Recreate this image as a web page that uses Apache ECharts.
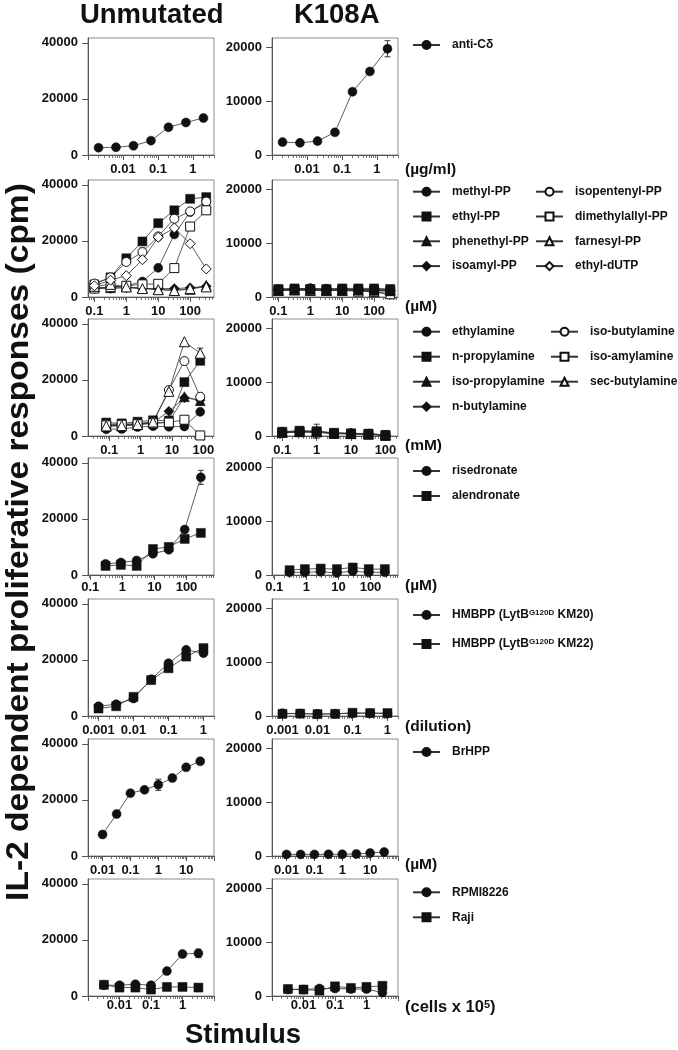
<!DOCTYPE html>
<html><head><meta charset="utf-8">
<script src="https://cdn.jsdelivr.net/npm/echarts@6/dist/echarts.min.js"></script>
<style>html,body{margin:0;padding:0;background:#fff}#c{width:678px;height:1050px}</style>
</head><body><div id="c"></div><script>
const FONT = '"Liberation Sans", Arial, Helvetica, sans-serif';

// ---------- Row 1: anti-Cdelta (ug/ml)
const r1X = [0.002, 0.0063, 0.02, 0.063, 0.2, 0.63, 2];
const r1XRange = [0.001, 4];
const r1XLabels = [0.01, 0.1, 1];
const antiCdU = [2600, 2750, 3300, 5100, 9900, 11600, 13200];
const antiCdK = [2400, 2270, 2590, 4220, 11790, 15570, 19800];
const antiCdKErr = [0, 0, 0, 0, 0, 0, 1500];

// ---------- Row 2: phosphoantigens (uM)
const r2X = [0.1, 0.32, 1, 3.2, 10, 32, 100, 320];
const r2XRange = [0.063, 560];
const r2XLabels = [0.1, 1, 10, 100];
const methylPPU = [3000, 3500, 4000, 5500, 10400, 22300, 30300, 33800];
const ethylPPU = [4500, 7000, 13800, 19800, 26300, 30900, 35000, 35600];
const phenethylPPU = [3500, 3300, 3600, 3200, 2800, 2400, 2700, 4200];
const isoamylPPU = [3000, 3000, 3300, 3000, 3000, 3000, 3300, 3800];
const isopentenylPPU = [4800, 7000, 12500, 16000, 21600, 27900, 30500, 34000];
const dimethylallylPPU = [3000, 3500, 4000, 4500, 4700, 10300, 25100, 30900];
const farnesylPPU = [3800, 4500, 3600, 3000, 2600, 2300, 3000, 3600];
const ethyldUTPU = [4000, 6000, 7600, 13300, 21300, 24600, 19000, 10000];
const methylPPUErr = [0, 0, 0, 0, 0, 0, 0, 1800];
const isopentenylPPUErr = [0, 0, 0, 1500, 1000, 1200, 0, 0];
const methylPPK = [1400, 1500, 1600, 1400, 1500, 1400, 1500, 1300];
const ethylPPK = [1500, 1600, 1500, 1500, 1600, 1600, 1600, 1500];
const phenethylPPK = [1300, 1400, 1400, 1300, 1400, 1300, 1300, 1200];
const isoamylPPK = [1200, 1300, 1300, 1200, 1300, 1200, 1200, 1100];
const isopentenylPPK = [1400, 1500, 1600, 1500, 1500, 1400, 1400, 1300];
const dimethylallylPPK = [1300, 1400, 1400, 1300, 1300, 1300, 1200, 1100];
const farnesylPPK = [1200, 1300, 1200, 1200, 1200, 1100, 1000, 600];
const ethyldUTPK = [1300, 1300, 1300, 1200, 1300, 1200, 900, 500];

// ---------- Row 3: alkylamines (mM)
const r3X = [0.08, 0.25, 0.8, 2.5, 8, 25, 80];
const r3XRange = [0.021, 220];
const r3XK = [0.1, 0.32, 1, 3.2, 10, 32, 100];
const r3XRangeK = [0.0505, 231];
const r3XLabels = [0.1, 1, 10, 100];
const ethylamineU = [2400, 2500, 3200, 3500, 3300, 3400, 8600];
const nPropylamineU = [4800, 4500, 5100, 5600, 5500, 19200, 26800];
const isoPropylamineU = [3500, 3600, 4000, 4600, 5000, 14000, 12600];
const nButylamineU = [3800, 3900, 4200, 4800, 8800, 13600, 12800];
const isoButylamineU = [4200, 4200, 4400, 5000, 16400, 26700, 14000];
const isoAmylamineU = [3800, 4000, 4200, 4500, 4800, 5800, 200];
const secButylamineU = [3600, 3700, 4100, 5000, 15900, 33600, 29500];
const secButylamineUErr = [0, 0, 0, 0, 0, 0, 1800];
const isoButylamineUErr = [0, 0, 0, 0, 1000, 1200, 1200];
const ethylamineK = [700, 800, 800, 500, 500, 400, 200];
const nPropylamineK = [800, 1000, 900, 600, 500, 450, 200];
const nPropylamineKErr = [0, 0, 1300, 0, 0, 0, 0];
const isoPropylamineK = [750, 900, 850, 550, 450, 400, 150];
const nButylamineK = [700, 850, 800, 500, 450, 350, 150];
const isoButylamineK = [650, 800, 750, 450, 400, 350, 100];
const isoAmylamineK = [600, 750, 700, 450, 400, 300, 100];
const secButylamineK = [700, 800, 800, 500, 450, 350, 150];

// ---------- Row 4: bisphosphonates (uM)
const r4X = [0.3, 0.9, 2.8, 9, 28, 88, 280];
const r4XRange = [0.085, 720];
const r4XLabels = [0.1, 1, 10, 100];
const risedronateU = [3960, 4440, 5160, 7570, 9000, 16200, 34800];
const risedronateUErr = [0, 0, 0, 0, 0, 0, 2500];
const alendronateU = [3240, 3600, 3240, 9250, 10000, 12860, 15000];
const risedronateK = [500, 500, 600, 400, 700, 500, 500];
const alendronateK = [900, 1100, 1200, 1100, 1400, 1100, 1100];

// ---------- Row 5: HMBPP (dilution)
const r5X = [0.001, 0.0032, 0.01, 0.032, 0.1, 0.32, 1];
const r5XRange = [0.0005, 2];
const r5XLabels = [0.001, 0.01, 0.1, 1];
const km20U = [3480, 4200, 6240, 13070, 18800, 23580, 22400];
const km22U = [2650, 3480, 6820, 12800, 17000, 21180, 24200];
const km20K = [500, 450, 400, 400, 500, 500, 450];
const km22K = [400, 450, 350, 400, 600, 550, 550];

// ---------- Row 6: BrHPP (uM)
const r6X = [0.01, 0.032, 0.1, 0.32, 1, 3.2, 10, 32];
const r6XRange = [0.003, 100];
const r6XLabels = [0.01, 0.1, 1, 10];
const brhppU = [7680, 14970, 22400, 23590, 25380, 27790, 31600, 33750];
const brhppUErr = [0, 0, 0, 0, 2000, 0, 0, 0];
const brhppK = [300, 300, 300, 320, 330, 380, 550, 750];

// ---------- Row 7: tumour cells (cells x 10^5)
const r7X = [0.0032, 0.01, 0.032, 0.1, 0.32, 1, 3.2];
const r7XRange = [0.001, 10];
const r7XLabels = [0.01, 0.1, 1];
const rpmiU = [3840, 3840, 4200, 3840, 8870, 14970, 15200];
const rpmiUErr = [0, 0, 0, 0, 0, 800, 1500];
const rajiU = [4000, 3000, 3000, 2300, 3230, 3230, 3000];
const rpmiK = [1200, 1200, 1400, 1400, 1300, 1300, 640];
const rajiK = [1300, 1200, 1000, 1800, 1500, 1700, 1900];

// y ticks
const yTicksU = [0, 20000, 40000];
const yTicksK = [0, 10000, 20000];

const HM20 = 'HMBPP (LytB G120D KM20)';
const HM22 = 'HMBPP (LytB G120D KM22)';

const rows = [
  { x: r1X, range: r1XRange, labels: r1XLabels, lm: 8, unit: '(\u00b5g/ml)', unitY: 170.5,
    series: [{ name: 'anti-C\u03b4', sym: 'circle', open: false, u: antiCdU, k: antiCdK, kErr: antiCdKErr }],
    legends: [{ names: ['anti-C\u03b4'], left: 412, cy: 45, sp: 25 }] },
  { x: r2X, range: r2XRange, labels: r2XLabels, lm: 8, unit: '(\u00b5M)', unitY: 308,
    series: [
      { name: 'methyl-PP', sym: 'circle', open: false, u: methylPPU, k: methylPPK, uErr: methylPPUErr },
      { name: 'ethyl-PP', sym: 'rect', open: false, u: ethylPPU, k: ethylPPK },
      { name: 'phenethyl-PP', sym: 'triangle', open: false, u: phenethylPPU, k: phenethylPPK },
      { name: 'isoamyl-PP', sym: 'diamond', open: false, u: isoamylPPU, k: isoamylPPK },
      { name: 'isopentenyl-PP', sym: 'circle', open: true, u: isopentenylPPU, k: isopentenylPPK, uErr: isopentenylPPUErr },
      { name: 'dimethylallyl-PP', sym: 'rect', open: true, u: dimethylallylPPU, k: dimethylallylPPK },
      { name: 'farnesyl-PP', sym: 'triangle', open: true, u: farnesylPPU, k: farnesylPPK },
      { name: 'ethyl-dUTP', sym: 'diamond', open: true, u: ethyldUTPU, k: ethyldUTPK }],
    legends: [{ names: ['methyl-PP', 'ethyl-PP', 'phenethyl-PP', 'isoamyl-PP'], left: 412, cy: 191.7, sp: 24.8 },
              { names: ['isopentenyl-PP', 'dimethylallyl-PP', 'farnesyl-PP', 'ethyl-dUTP'], left: 535, cy: 191.7, sp: 24.8 }] },
  { x: r3X, range: r3XRange, xK: r3XK, rangeK: r3XRangeK, labels: r3XLabels, lm: 8, unit: '(mM)', unitY: 447,
    series: [
      { name: 'ethylamine', sym: 'circle', open: false, u: ethylamineU, k: ethylamineK },
      { name: 'n-propylamine', sym: 'rect', open: false, u: nPropylamineU, k: nPropylamineK, kErr: nPropylamineKErr },
      { name: 'iso-propylamine', sym: 'triangle', open: false, u: isoPropylamineU, k: isoPropylamineK },
      { name: 'n-butylamine', sym: 'diamond', open: false, u: nButylamineU, k: nButylamineK },
      { name: 'iso-butylamine', sym: 'circle', open: true, u: isoButylamineU, k: isoButylamineK, uErr: isoButylamineUErr },
      { name: 'iso-amylamine', sym: 'rect', open: true, u: isoAmylamineU, k: isoAmylamineK },
      { name: 'sec-butylamine', sym: 'triangle', open: true, u: secButylamineU, k: secButylamineK, uErr: secButylamineUErr }],
    legends: [{ names: ['ethylamine', 'n-propylamine', 'iso-propylamine', 'n-butylamine'], left: 412, cy: 331.7, sp: 25 },
              { names: ['iso-butylamine', 'iso-amylamine', 'sec-butylamine'], left: 550, cy: 331.7, sp: 25 }] },
  { x: r4X, range: r4XRange, labels: r4XLabels, lm: 6, unit: '(\u00b5M)', unitY: 587,
    series: [
      { name: 'risedronate', sym: 'circle', open: false, u: risedronateU, k: risedronateK, uErr: risedronateUErr },
      { name: 'alendronate', sym: 'rect', open: false, u: alendronateU, k: alendronateK }],
    legends: [{ names: ['risedronate', 'alendronate'], left: 412, cy: 471, sp: 25 }] },
  { x: r5X, range: r5XRange, labels: r5XLabels, lm: 8, unit: '(dilution)', unitY: 727.5,
    series: [
      { name: HM20, sym: 'circle', open: false, u: km20U, k: km20K },
      { name: HM22, sym: 'rect', open: false, u: km22U, k: km22K }],
    legends: [{ names: [HM20, HM22], left: 412, cy: 615, sp: 29, sup: true }] },
  { x: r6X, range: r6XRange, labels: r6XLabels, lm: 8, unit: '(\u00b5M)', unitY: 866,
    series: [{ name: 'BrHPP', sym: 'circle', open: false, u: brhppU, k: brhppK, uErr: brhppUErr }],
    legends: [{ names: ['BrHPP'], left: 412, cy: 752, sp: 25 }] },
  { x: r7X, range: r7XRange, labels: r7XLabels, lm: 2.5, unit: null, unitY: 1009,
    series: [
      { name: 'RPMI8226', sym: 'circle', open: false, u: rpmiU, k: rpmiK, uErr: rpmiUErr },
      { name: 'Raji', sym: 'rect', open: false, u: rajiU, k: rajiK }],
    legends: [{ names: ['RPMI8226', 'Raji'], left: 412, cy: 892.3, sp: 25 }] }
];

const TOPS = [38, 180, 319, 458, 599, 739, 879];
const GRID_H = 117, GRID_W = 126, LEFTS = [88, 272];
const Y_MAX = [41700, 21800];
const AX = '#555';
const TXT = '#111';

function majorTicks(mn, mx) {
  const out = [];
  for (let e = Math.floor(Math.log10(mn)) - 1; e <= Math.ceil(Math.log10(mx)) + 1; e++) {
    const v = +Math.pow(10, e).toPrecision(6);
    if (v >= mn && v <= mx) out.push(v);
  }
  return out;
}
function minorTicks(mn, mx) {
  const out = [];
  for (let e = Math.floor(Math.log10(mn)) - 1; e <= Math.ceil(Math.log10(mx)) + 1; e++) {
    for (let k = 2; k <= 9; k++) {
      const v = +(k * Math.pow(10, e)).toPrecision(6);
      if (v >= mn && v <= mx) out.push(v);
    }
  }
  return out;
}
const fmt = v => String(+(+v).toPrecision(6));

function errRender(params, api) {
  const x = api.value(0), lo = api.value(1), hi = api.value(2);
  const a = api.coord([x, hi]), b = api.coord([x, lo]);
  const w = 3, st = { stroke: '#222', lineWidth: 0.9 };
  return { type: 'group', children: [
    { type: 'line', shape: { x1: a[0], y1: a[1], x2: b[0], y2: b[1] }, style: st },
    { type: 'line', shape: { x1: a[0] - w, y1: a[1], x2: a[0] + w, y2: a[1] }, style: st },
    { type: 'line', shape: { x1: b[0] - w, y1: b[1], x2: b[0] + w, y2: b[1] }, style: st }
  ] };
}

const grids = [], xAxes = [], yAxes = [], series = [], legends = [], graphics = [];
const labelStyle = { color: TXT, fontFamily: FONT, fontWeight: 'bold', fontSize: 13 };

rows.forEach((row, r) => {
  [0, 1].forEach(p => {
    const g = r * 2 + p;
    const [mn, mx] = (p === 1 && row.rangeK) ? row.rangeK : row.range;
    const xs = (p === 1 && row.xK) ? row.xK : row.x;
    grids.push({ left: LEFTS[p], top: TOPS[r], width: GRID_W, height: GRID_H, show: true,
      borderColor: '#8c8c8c', borderWidth: 1, backgroundColor: 'transparent', containLabel: false, outerBoundsMode: 'none' });
    xAxes.push({ type: 'log', logBase: 10, gridIndex: g, position: 'bottom', min: mn, max: mx,
      axisLine: { show: true, onZero: false, lineStyle: { color: AX, width: 1 } },
      axisTick: { show: true, length: 5, customValues: majorTicks(mn, mx), lineStyle: { color: AX, width: 1 } },
      axisLabel: Object.assign({ show: true, customValues: row.labels, margin: row.lm, formatter: fmt,
        showMinLabel: true, showMaxLabel: true, hideOverlap: false }, labelStyle),
      splitLine: { show: false }, minorTick: { show: false }, minorSplitLine: { show: false } });
    xAxes.push({ type: 'log', logBase: 10, gridIndex: g, position: 'bottom', min: mn, max: mx,
      axisLine: { show: false },
      axisTick: { show: true, length: 3, customValues: minorTicks(mn, mx), lineStyle: { color: AX, width: 0.8 } },
      axisLabel: { show: false }, splitLine: { show: false } });
    const yt = p === 0 ? yTicksU : yTicksK;
    yAxes.push({ type: 'value', gridIndex: g, min: 0, max: Y_MAX[p],
      axisLine: { show: true, onZero: false, lineStyle: { color: AX, width: 1 } },
      axisTick: { show: true, length: 6, customValues: yt, lineStyle: { color: AX, width: 1 } },
      axisLabel: Object.assign({ show: true, customValues: yt, margin: 10, formatter: v => String(v) }, labelStyle),
      splitLine: { show: false } });
    const errData = [];
    const list = p === 0 ? row.series.slice() : row.series.slice().reverse();
    list.forEach(s => {
      const vals = p === 0 ? s.u : s.k;
      const errs = p === 0 ? s.uErr : s.kErr;
      series.push({ type: 'line', name: s.name, xAxisIndex: 2 * g, yAxisIndex: g,
        data: xs.map((xv, j) => [xv, vals[j]]),
        symbol: s.sym, symbolSize: s.sym === 'triangle' ? 10 : (s.sym === 'diamond' ? 10 : 9),
        showSymbol: true, showAllSymbol: true, clip: false,
        itemStyle: s.open ? { color: '#fff', borderColor: '#111', borderWidth: 1 } : { color: '#111', borderColor: '#111', borderWidth: 0.5 },
        lineStyle: { color: '#333', width: 0.8 },
        emphasis: { disabled: true }, silent: true, animation: false, z: 2 });
      if (errs) errs.forEach((e, j) => { if (e > 0) errData.push([xs[j], vals[j] - e, vals[j] + e]); });
    });
    if (errData.length) series.push({ type: 'custom', xAxisIndex: 2 * g, yAxisIndex: g, data: errData,
      renderItem: errRender, silent: true, animation: false, z: 1, clip: false });
  });
  row.legends.forEach(L => {
    const lg = { show: true, orient: 'vertical', left: L.left, top: L.cy - 6, padding: 0,
      itemGap: L.sp - 12, itemWidth: 27, itemHeight: 10, selectedMode: false, data: L.names,
      textStyle: { color: TXT, fontFamily: FONT, fontWeight: 'bold', fontSize: 12, padding: [0, 0, 0, 7] } };
    if (L.sup) {
      lg.formatter = n => '{n|' + n.replace('LytB G120D', 'LytB}{s|G120D}{n|') + '}';
      lg.textStyle.rich = {
        n: { color: TXT, fontFamily: FONT, fontWeight: 'bold', fontSize: 12 },
        s: { color: TXT, fontFamily: FONT, fontWeight: 'bold', fontSize: 8, verticalAlign: 'top' } };
    }
    legends.push(lg);
  });
  if (row.unit) graphics.push({ type: 'text', left: 405, top: row.unitY - 9,
    style: { text: row.unit, fill: TXT, font: 'bold 15.5px ' + FONT } });
});

// unit with superscript for last row
graphics.push({ type: 'text', x: 405, y: 1016, style: {
  text: '{a|(cells x 10}{b|5}{a|)}', textVerticalAlign: 'bottom',
  rich: { a: { fill: TXT, fontSize: 16.5, fontWeight: 'bold', fontFamily: FONT, color: TXT },
          b: { fill: TXT, fontSize: 11, fontWeight: 'bold', fontFamily: FONT, color: TXT, verticalAlign: 'top' } } } });

// titles
graphics.push({ type: 'text', x: 151.7, y: 15, style: { text: 'Unmutated', fill: TXT, font: 'bold 27.5px ' + FONT, textAlign: 'center', textVerticalAlign: 'middle' } });
graphics.push({ type: 'text', x: 336.7, y: 15, style: { text: 'K108A', fill: TXT, font: 'bold 27.5px ' + FONT, textAlign: 'center', textVerticalAlign: 'middle' } });
graphics.push({ type: 'text', x: 243, y: 1035, style: { text: 'Stimulus', fill: TXT, font: 'bold 27.5px ' + FONT, textAlign: 'center', textVerticalAlign: 'middle' } });
graphics.push({ type: 'text', x: 20, y: 542, rotation: Math.PI / 2, scaleX: 1.1, scaleY: 1,
  style: { text: 'IL-2 dependent proliferative responses (cpm)', fill: TXT, font: 'bold 30.5px ' + FONT, textAlign: 'center', textVerticalAlign: 'middle' } });

const chart = echarts.init(document.getElementById('c'), null, { renderer: 'canvas' });
chart.setOption({
  animation: false,
  backgroundColor: '#fff',
  grid: grids, xAxis: xAxes, yAxis: yAxes, series: series, legend: legends,
  graphic: graphics,
  tooltip: { show: false }
});
</script></body></html>
